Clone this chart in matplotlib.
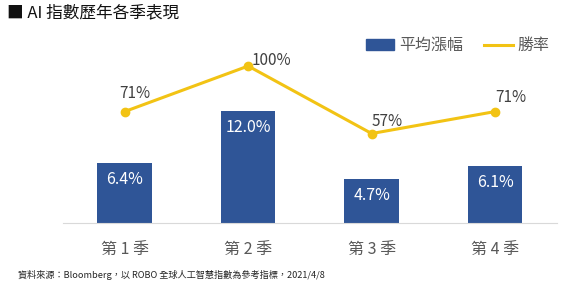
import matplotlib
matplotlib.use("Agg")
from matplotlib import pyplot as plt
from matplotlib.patches import Patch
from matplotlib.lines import Line2D

plt.rcParams['font.family'] = ['Noto Sans CJK TC', 'DejaVu Sans']

quarters = ["第 1 季", "第 2 季", "第 3 季", "第 4 季"]
avg_gain = [6.4, 12.0, 4.7, 6.1]
win_rate = [71, 100, 57, 71]
win_offsets = [(7, 13), (17, 4), (11, 9), (11, 10)]

BLUE = "#2F5597"
GOLD = "#F2C314"

fig = plt.figure(figsize=(5.72, 2.85), dpi=100)
ax = fig.add_axes([0.110, 0.2175, 0.8636, 0.6246])
x = list(range(len(quarters)))

bars = ax.bar(x, avg_gain, width=0.44, color=BLUE, zorder=2)
for b, v in zip(bars, avg_gain):
    ax.annotate(f"{v:.1f}%", (b.get_x() + b.get_width() / 2, v),
                xytext=(0, -12), textcoords="offset points",
                ha="center", va="center", color="white", fontsize=11.5)
ax.set_xlim(-0.5, 3.5)
ax.set_ylim(0, 19.0)
ax.set_yticks([])
ax.set_xticks(x)
ax.set_xticklabels(quarters, fontsize=11.5, color="#595959")
ax.tick_params(axis="x", length=0, pad=13)
for s in ["top", "right", "left"]:
    ax.spines[s].set_visible(False)
ax.spines["bottom"].set_color("#D9D9D9")

ax2 = ax.twinx()
ax2.plot(x, win_rate, color=GOLD, lw=2.2, marker="o", ms=6, zorder=3)
for xi, v, off in zip(x, win_rate, win_offsets):
    ax2.annotate(f"{v}%", (xi, v), xytext=off, textcoords="offset points",
                 ha="center", va="center", color="#404040", fontsize=11)
ax2.set_ylim(0, 113.4)
ax2.set_yticks([])
for s in ["top", "right", "left", "bottom"]:
    ax2.spines[s].set_visible(False)

handles = [Patch(color=BLUE), Line2D([0], [0], color=GOLD, lw=2.2)]
fig.legend(handles, ["平均漲幅", "勝率"], loc="center", bbox_to_anchor=(0.80, 0.84),
           ncol=2, frameon=False, fontsize=11.5, labelcolor="#595959",
           handlelength=1.8, handletextpad=0.3, columnspacing=1.3)

fig.text(0.012, 0.955, "■ AI 指數歷年各季表現", fontsize=12, color="#111111",
         ha="left", va="center", fontweight="medium")
fig.text(0.031, 0.035, "資料來源：Bloomberg，以 ROBO 全球人工智慧指數為參考指標，2021/4/8",
         fontsize=6.6, color="#262626", ha="left", va="center")

fig.savefig("out.png", dpi=100)
